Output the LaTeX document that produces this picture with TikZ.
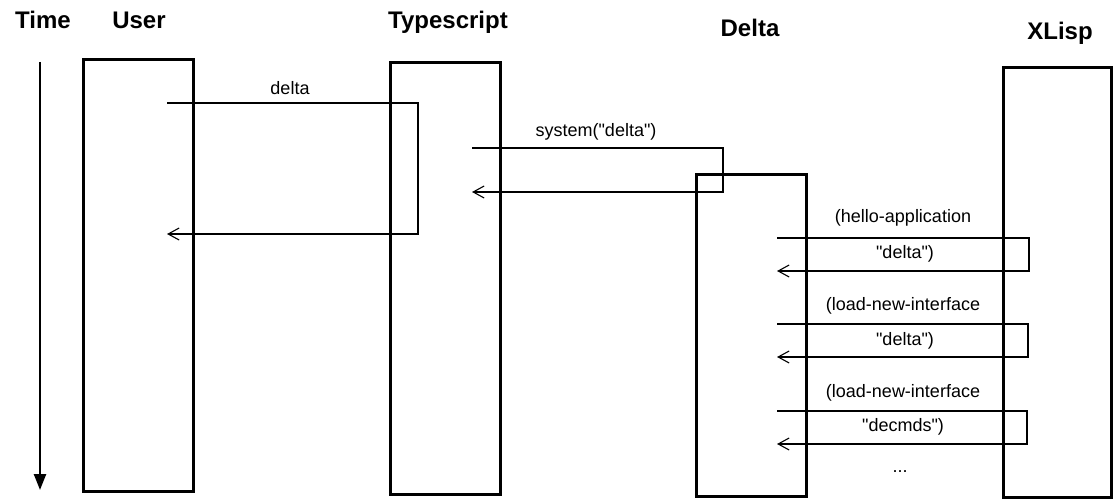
\documentclass[tikz,border=0pt]{standalone}
\usepackage{fontspec}
\setmainfont{Liberation Sans}
\usetikzlibrary{arrows.meta}

\tikzset{
  lifebox/.style={draw, line width=2.8pt, rectangle, inner sep=0pt, anchor=north west},
  heading/.style={font=\bfseries\fontsize{24}{28}\selectfont, inner sep=0pt},
  msglabel/.style={font=\fontsize{18}{22}\selectfont, inner sep=0pt},
  msg/.style={line width=1.1pt, -{Straight Barb[length=11pt,width=12pt,line width=1.1pt]}},
  timeline/.style={line width=2.4pt, -{Triangle[length=16pt,width=12pt]}}
}
\newcommand{\dq}{\textquotedbl}

\begin{document}
\begin{tikzpicture}[x=1pt,y=-1pt]
  \useasboundingbox (0,0) rectangle (1113,500);

  % column headings
  \node[heading] (htime) at (43,20) {Time};
  \node[heading] (huser) at (139,20) {User};
  \node[heading] (htype) at (448,22) {Typescript};
  \node[heading] (hdelta) at (750,28) {Delta};
  \node[heading] (hxlisp) at (1060,33) {XLisp};

  % time axis
  \coordinate (t0) at (40,62);
  \coordinate (t1) at (40,490);
  \draw[timeline] (t0) -- (t1);

  % process boxes
  \node[lifebox, minimum width=110pt, minimum height=432pt] (user) at (82,58) {};
  \node[lifebox, minimum width=110pt, minimum height=432pt] (type) at (389,61) {};
  \node[lifebox, minimum width=110pt, minimum height=322pt] (delta) at (695,173) {};
  \node[lifebox, minimum width=108pt, minimum height=430pt] (xlisp) at (1002,66) {};

  % User -> Typescript
  \coordinate (m1s) at (167,103);
  \coordinate (m1c) at (418,234);
  \draw[msg] (m1s) -| (m1c) -- (m1c -| m1s);
  \node[msglabel] (l1) at (290,88) {delta};

  % Typescript -> Delta
  \coordinate (m2s) at (472,148);
  \coordinate (m2c) at (723,192);
  \draw[msg] (m2s) -| (m2c) -- (m2c -| m2s);
  \node[msglabel] (l2) at (596,132) {system(\dq delta\dq)};

  % Delta -> XLisp
  \coordinate (m3s) at (777,238);
  \coordinate (m3c) at (1029,271);
  \draw[msg] (m3s) -| (m3c) -- (m3c -| m3s);
  \node[msglabel] (l3a) at (903,218) {(hello-application};
  \node[msglabel] (l3b) at (905,254) {\dq delta\dq)};

  \coordinate (m4s) at (777,324);
  \coordinate (m4c) at (1028,357);
  \draw[msg] (m4s) -| (m4c) -- (m4c -| m4s);
  \node[msglabel] (l4a) at (903,306) {(load-new-interface};
  \node[msglabel] (l4b) at (905,341) {\dq delta\dq)};

  \coordinate (m5s) at (777,411);
  \coordinate (m5c) at (1027,444);
  \draw[msg] (m5s) -| (m5c) -- (m5c -| m5s);
  \node[msglabel] (l5a) at (903,393) {(load-new-interface};
  \node[msglabel] (l5b) at (903,427) {\dq decmds\dq)};

  \node[msglabel] (dots) at (900,472) {...};
\end{tikzpicture}
\end{document}
